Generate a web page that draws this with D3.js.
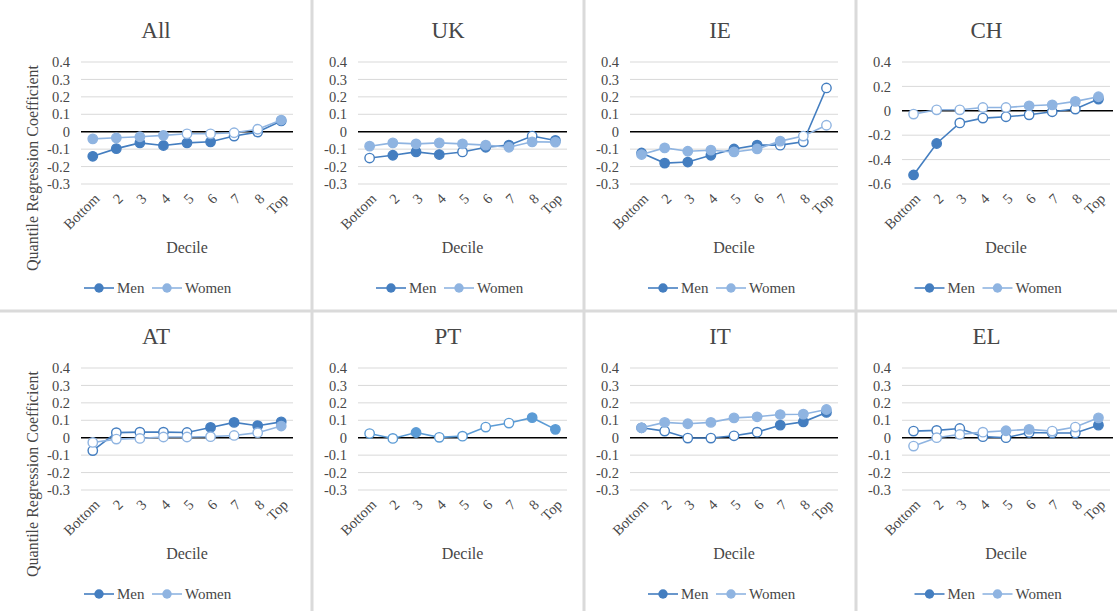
<!DOCTYPE html>
<html>
<head>
<meta charset="utf-8">
<script src="https://d3js.org/d3.v7.min.js"></script>
<style>
  body { margin: 0; background: #fff; }
  svg text { font-family: "Liberation Serif", "Times New Roman", serif; fill: #474747; }
</style>
</head>
<body>
<svg class="target" width="1117" height="611"></svg>
<script>

// categories on the x axis
const deciles = ['Bottom', '2', '3', '4', '5', '6', '7', '8', 'Top']

// coefficients; *Sig = 1 -> filled marker, 0 -> hollow
const menAll   = [-0.141, -0.097, -0.064, -0.079, -0.064, -0.058, -0.025, -0.002, 0.062]
const womenAll = [-0.041, -0.035, -0.029, -0.021, -0.012, -0.012, -0.006, 0.014, 0.067]
const menAllSig   = [1, 1, 1, 1, 1, 1, 0, 0, 1]
const womenAllSig = [1, 1, 1, 1, 0, 0, 0, 0, 1]

const menUK   = [-0.151, -0.135, -0.116, -0.131, -0.116, -0.089, -0.077, -0.025, -0.050]
const womenUK = [-0.083, -0.064, -0.070, -0.064, -0.070, -0.077, -0.089, -0.058, -0.060]
const menUKSig   = [0, 1, 1, 1, 0, 1, 1, 0, 1]
const womenUKSig = [1, 1, 1, 1, 1, 1, 1, 1, 1]

const menIE   = [-0.122, -0.180, -0.174, -0.135, -0.099, -0.077, -0.077, -0.058, 0.251]
const womenIE = [-0.131, -0.093, -0.112, -0.106, -0.116, -0.099, -0.054, -0.025, 0.037]
const menIESig   = [1, 1, 1, 1, 1, 1, 0, 0, 0]
const womenIESig = [1, 1, 1, 1, 1, 1, 1, 0, 0]

const menCH   = [-0.526, -0.268, -0.099, -0.060, -0.049, -0.033, -0.008, 0.014, 0.096]
const womenCH = [-0.027, 0.008, 0.008, 0.027, 0.027, 0.041, 0.049, 0.077, 0.115]
const menCHSig   = [1, 1, 0, 0, 0, 0, 0, 0, 1]
const womenCHSig = [0, 0, 0, 0, 0, 1, 1, 1, 1]

const menAT   = [-0.074, 0.029, 0.032, 0.032, 0.030, 0.059, 0.088, 0.069, 0.091]
const womenAT = [-0.027, -0.008, -0.004, 0.004, 0.004, 0.006, 0.013, 0.029, 0.067]
const menATSig   = [0, 0, 0, 0, 0, 1, 1, 1, 1]
const womenATSig = [0, 0, 0, 0, 0, 0, 0, 0, 1]

const allPT    = [0.024, -0.004, 0.030, 0.002, 0.009, 0.061, 0.084, 0.115, 0.048]
const allPTSig = [0, 0, 1, 0, 0, 0, 0, 1, 1]

const menIT   = [0.057, 0.038, -0.002, -0.002, 0.011, 0.032, 0.072, 0.091, 0.145]
const womenIT = [0.057, 0.088, 0.080, 0.088, 0.114, 0.120, 0.133, 0.135, 0.162]
const menITSig   = [1, 0, 0, 0, 0, 0, 1, 1, 1]
const womenITSig = [1, 1, 1, 1, 1, 1, 1, 1, 1]

const menEL   = [0.038, 0.042, 0.053, 0.006, 0.000, 0.030, 0.027, 0.027, 0.072]
const womenEL = [-0.048, 0.000, 0.019, 0.032, 0.040, 0.048, 0.038, 0.061, 0.114]
const menELSig   = [0, 0, 0, 0, 0, 0, 0, 0, 1]
const womenELSig = [0, 0, 0, 0, 1, 1, 0, 0, 1]

const ticksStd = [0.4, 0.3, 0.2, 0.1, 0, -0.1, -0.2, -0.3]
const ticksCH  = [0.4, 0.2, 0, -0.2, -0.4, -0.6]

const menColor = '#447ec0'
const womenColor = '#8fb4e1'
const ptColor = '#5b9bd5'

const panels = [
  { title: 'All', row: 0, col: 0, ticks: ticksStd, series: [
      { name: 'Men', values: menAll, sig: menAllSig, color: menColor },
      { name: 'Women', values: womenAll, sig: womenAllSig, color: womenColor }] },
  { title: 'UK', row: 0, col: 1, ticks: ticksStd, series: [
      { name: 'Men', values: menUK, sig: menUKSig, color: menColor },
      { name: 'Women', values: womenUK, sig: womenUKSig, color: womenColor }] },
  { title: 'IE', row: 0, col: 2, ticks: ticksStd, series: [
      { name: 'Men', values: menIE, sig: menIESig, color: menColor },
      { name: 'Women', values: womenIE, sig: womenIESig, color: womenColor }] },
  { title: 'CH', row: 0, col: 3, ticks: ticksCH, series: [
      { name: 'Men', values: menCH, sig: menCHSig, color: menColor },
      { name: 'Women', values: womenCH, sig: womenCHSig, color: womenColor }] },
  { title: 'AT', row: 1, col: 0, ticks: ticksStd, series: [
      { name: 'Men', values: menAT, sig: menATSig, color: menColor },
      { name: 'Women', values: womenAT, sig: womenATSig, color: womenColor }] },
  { title: 'PT', row: 1, col: 1, ticks: ticksStd, noLegend: true, series: [
      { name: 'All', values: allPT, sig: allPTSig, color: ptColor }] },
  { title: 'IT', row: 1, col: 2, ticks: ticksStd, series: [
      { name: 'Men', values: menIT, sig: menITSig, color: menColor },
      { name: 'Women', values: womenIT, sig: womenITSig, color: womenColor }] },
  { title: 'EL', row: 1, col: 3, ticks: ticksStd, series: [
      { name: 'Men', values: menEL, sig: menELSig, color: menColor },
      { name: 'Women', values: womenEL, sig: womenELSig, color: womenColor }] }
]

// layout
const colEdges = [0, 312, 584, 856, 1117]
const plotLeft = [81, 358, 630, 902]
const plotRight = [293, 567, 838, 1110]
const rowTop = [0, 306]
const svg = d3.select('.target')

// panel separators
svg.append('g')
  .selectAll('line.vsep')
  .data(colEdges.slice(1, 4))
  .join('line')
    .attr('x1', d => d).attr('x2', d => d)
    .attr('y1', 0).attr('y2', 611)
    .attr('stroke', '#dadada').attr('stroke-width', 3)
svg.append('line')
  .attr('x1', 0).attr('x2', 1117).attr('y1', 311).attr('y2', 311)
  .attr('stroke', '#dadada').attr('stroke-width', 3)

const fmt = d => d === 0 ? '0' : String(+d.toFixed(1))

panels.forEach(p => {
  const top = rowTop[p.row]
  const x0 = plotLeft[p.col], x1 = plotRight[p.col]
  const yTop = top + 62, yBot = top + 184
  const cx = (colEdges[p.col] + colEdges[p.col + 1]) / 2

  const x = d3.scalePoint(deciles, [x0, x1]).padding(0.5)
  const y = d3.scaleLinear(d3.extent(p.ticks), [yBot, yTop])

  const g = svg.append('g')

  g.append('text')
    .attr('x', cx).attr('y', top + 38)
    .attr('text-anchor', 'middle')
    .style('font-size', '23px')
    .text(p.title)

  // gridlines
  g.selectAll('line.grid')
    .data(p.ticks.filter(t => t !== 0))
    .join('line')
      .attr('x1', x0).attr('x2', x1)
      .attr('y1', d => y(d)).attr('y2', d => y(d))
      .attr('stroke', '#d9d9d9').attr('stroke-width', 1)

  // y tick labels
  const yAxis = d3.axisLeft(y).tickValues(p.ticks).tickFormat(fmt).tickSize(0).tickPadding(11)
  g.append('g')
    .attr('transform', `translate(${x0},0)`)
    .call(yAxis)
    .call(a => a.select('.domain').remove())
    .selectAll('text')
      .style('font-size', '14.5px')

  // zero line
  g.append('line')
    .attr('x1', x0).attr('x2', x1 + (p.col === 3 ? 3 : 0))
    .attr('y1', y(0)).attr('y2', y(0))
    .attr('stroke', '#000').attr('stroke-width', 1.5)

  // x tick labels, rotated
  g.selectAll('text.xt')
    .data(deciles)
    .join('text')
      .attr('transform', d => `translate(${x(d) + 4},${yBot + 12}) rotate(-45)`)
      .attr('text-anchor', 'end')
      .attr('dy', '0.35em')
      .style('font-size', '14.5px')
      .text(d => d)

  g.append('text')
    .attr('x', (x0 + x1) / 2).attr('y', top + 253)
    .attr('text-anchor', 'middle')
    .style('font-size', '16px')
    .text('Decile')

  if (p.col === 0) {
    g.append('text')
      .attr('transform', `translate(38,${top + 168}) rotate(-90)`)
      .attr('text-anchor', 'middle')
      .style('font-size', '16px')
      .text('Quantile Regression Coefficient')
  }

  const line = d3.line().x((d, i) => x(deciles[i])).y(d => y(d))

  p.series.forEach(s => {
    g.append('path')
      .attr('d', line(s.values))
      .attr('fill', 'none')
      .attr('stroke', s.color)
      .attr('stroke-width', 1.6)
    g.selectAll(null)
      .data(s.values)
      .join('circle')
        .attr('cx', (d, i) => x(deciles[i]))
        .attr('cy', d => y(d))
        .attr('r', 4.7)
        .attr('fill', (d, i) => s.sig[i] ? s.color : '#fff')
        .attr('stroke', s.color)
        .attr('stroke-width', 1.4)
  })

  // legend
  if (!p.noLegend) {
    const lg = g.append('g').attr('transform', `translate(${cx - 72},${top + 288})`)
    const items = [{ name: 'Men', color: menColor }, { name: 'Women', color: womenColor }]
    items.forEach((it, i) => {
      const ig = lg.append('g').attr('transform', `translate(${i * 68},0)`)
      ig.append('line').attr('x1', 0).attr('x2', 30).attr('y1', 0).attr('y2', 0)
        .attr('stroke', it.color).attr('stroke-width', 1.6)
      ig.append('circle').attr('cx', 15).attr('cy', 0).attr('r', 4.7).attr('fill', it.color)
      ig.append('text').attr('x', 33).attr('y', 0).attr('dy', '0.35em')
        .style('font-size', '15px').text(it.name)
    })
  }
})

</script>
</body>
</html>
